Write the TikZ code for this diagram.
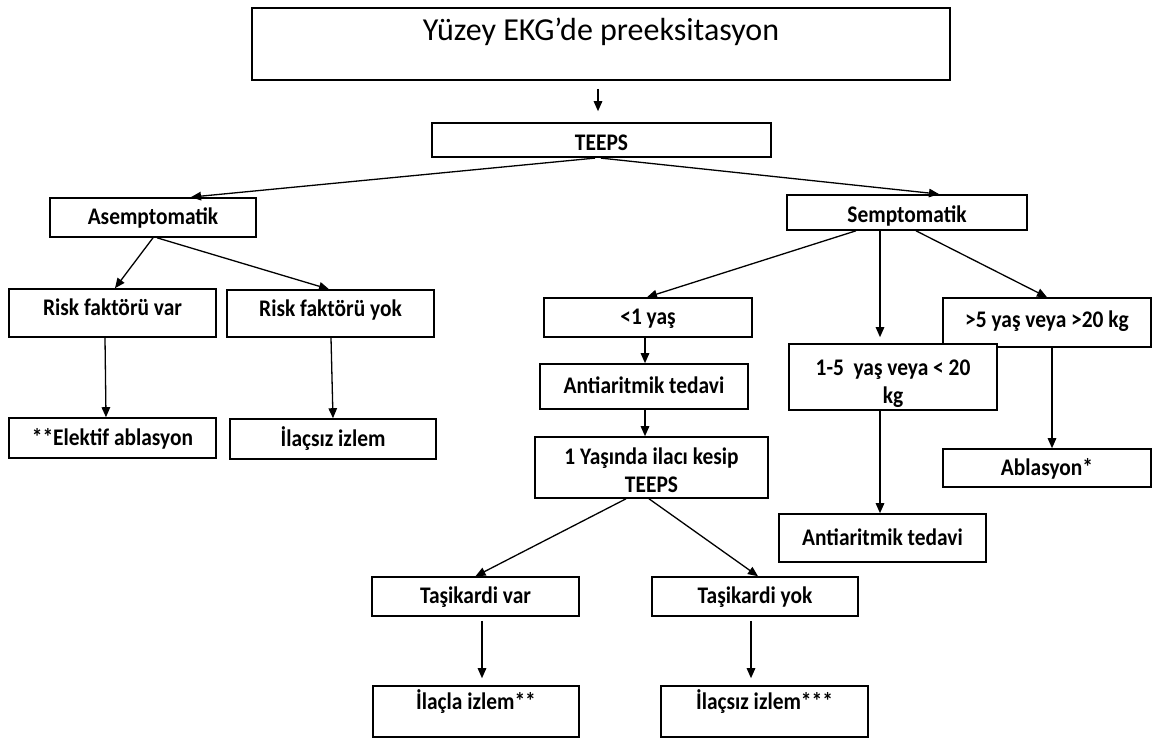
\documentclass[tikz,border=0pt]{standalone}
\usepackage{fontspec}
\setmainfont{Carlito}
\newfontfamily\boxfont{Carlito}[FakeStretch=0.9]
\usetikzlibrary{arrows.meta}
\begin{document}
\begin{tikzpicture}[x=1pt,y=-1pt,
  box/.style={draw=black,line width=1.6pt,fill=white,inner sep=2pt,align=center,
    font=\boxfont\fontsize{23.8}{28}\selectfont\bfseries},
  one/.style={box,text height=19pt,text depth=5pt},
  arr/.style={line width=1.3pt,-{Triangle[length=10pt,width=8.5pt]}}]
\useasboundingbox (0,0) rectangle (1153,739);
\node[box,minimum width=698,minimum height=72,text height=23pt,text depth=30pt,font=\rmfamily\fontsize{32}{36}\selectfont] (title) at (601,44) {Yüzey EKG’de preeksitasyon};
\node[one,minimum width=339,minimum height=34,text height=23pt,text depth=2pt] (teeps) at (601.5,140) {TEEPS};
\node[one,minimum width=206,minimum height=39] (asym) at (153,217.5) {Asemptomatik};
\node[one,minimum width=240,minimum height=35,text height=23pt,text depth=3pt] (sym) at (907,212.5) {Semptomatik};
\node[one,minimum width=207,minimum height=48,text depth=14pt] (rfv) at (112.5,313) {Risk faktörü var};
\node[one,minimum width=207,minimum height=47,text depth=14pt] (rfy) at (330.5,313.5) {Risk faktörü yok};
\node[one,minimum width=207,minimum height=40] (eab) at (112.5,438) {**Elektif ablasyon};
\node[one,minimum width=206,minimum height=40] (ilz) at (333,439) {İlaçsız izlem};
\node[one,minimum width=208,minimum height=39] (lt1) at (648,317.5) {<1 yaş};
\node[one,minimum width=208,minimum height=45] (anti1) at (644,386.5) {Antiaritmik tedavi};
\node[box,minimum width=233,minimum height=61] (yas) at (651.5,467.5) {\rule{0pt}{22pt}1 Yaşında ilacı kesip\\TEEPS};
\node[one,minimum width=208,minimum height=49,text depth=9pt] (gt5) at (1047,322.5) {>5 yaş veya >20 kg};
\node[box,minimum width=208,minimum height=64] (y15) at (893,377) {\rule{0pt}{30pt}1-5 \ yaş veya < 20\\kg};
\node[one,minimum width=208,minimum height=38] (abl) at (1047,468) {Ablasyon*};
\node[one,minimum width=207,minimum height=48] (anti2) at (882.5,538) {Antiaritmik tedavi};
\node[one,minimum width=207,minimum height=39] (tv) at (475.5,596.5) {Taşikardi var};
\node[one,minimum width=206,minimum height=39] (ty) at (755,596.5) {Taşikardi yok};
\node[one,minimum width=206,minimum height=51,text depth=23pt] (iz1) at (476,711.5) {İlaçla izlem**};
\node[one,minimum width=207,minimum height=51,text depth=23pt] (iz2) at (764.5,711.5) {İlaçsız izlem***};
%
\draw[arr,shorten <=8pt,shorten >=11pt] ([xshift=-3]title.south) -- ([xshift=-3.5]teeps.north);
\draw[arr,shorten <=3pt,shorten >=1pt] ([xshift=-3.5]teeps.south) -- ([xshift=37]asym.north);
\draw[arr,shorten <=3pt,shorten >=1pt] ([xshift=-3.5]teeps.south) -- ([xshift=33]sym.north);
\draw[arr] ([xshift=0]asym.south) -- ([xshift=2.5]rfv.north);
\draw[arr] ([xshift=4]asym.south) -- ([xshift=-1.5]rfy.north);
\draw[arr] ([xshift=-7.5]rfv.south) -- ([xshift=-6.5]eab.north);
\draw[arr] ([xshift=0.5]rfy.south) -- ([xshift=0]ilz.north);
\draw[arr] ([xshift=-51]sym.south) -- ([xshift=-1]lt1.north);
\draw[arr,shorten >=6pt] ([xshift=-27]sym.south) -- ([xshift=-13]y15.north);
\draw[arr] ([xshift=9]sym.south) -- ([xshift=0]gt5.north);
\draw[arr] ([xshift=-3]lt1.south) -- ([xshift=1]anti1.north);
\draw[arr] ([xshift=1]anti1.south) -- ([xshift=-6.5]yas.north);
\draw[arr] ([xshift=-13]y15.south) -- ([xshift=-2.5]anti2.north);
\draw[arr] ([xshift=5]gt5.south) -- ([xshift=5]abl.north);
\draw[arr] ([xshift=-25.5]yas.south) -- ([xshift=0]tv.north);
\draw[arr] ([xshift=-2.5]yas.south) -- ([xshift=3]ty.north);
\draw[arr,shorten <=4pt,shorten >=7pt] ([xshift=6.5]tv.south) -- ([xshift=6]iz1.north);
\draw[arr,shorten <=4pt,shorten >=7pt] ([xshift=-4]ty.south) -- ([xshift=-13.5]iz2.north);
\end{tikzpicture}
\end{document}
